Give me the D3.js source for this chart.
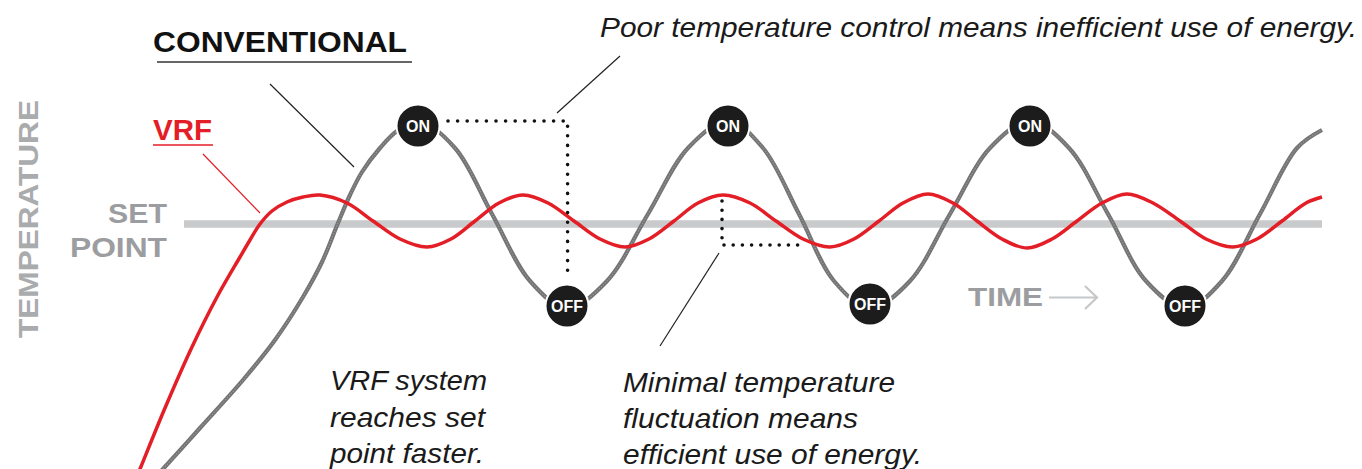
<!DOCTYPE html>
<html><head><meta charset="utf-8">
<script src="https://cdn.jsdelivr.net/npm/d3@7"></script>
<style>html,body{margin:0;padding:0;background:#fff;overflow:hidden}</style>
</head><body><svg id="c" width="1362" height="469"></svg>
<script>
// ---- data (time units, temperature relative to set point) ----
const vrfTime = [-0.5, 0, 2.5, 5.2, 7.7, 10.0, 11.0, 12.0, 13.2, 14.7, 16.3, 18.0, 20.7, 23.3, 26.0, 28.7, 31.1, 33.5, 35.9, 38.3, 40.8, 43.4, 46.0, 48.5, 50.9, 53.4, 55.8, 58.3, 61.0, 63.6, 66.3, 69.0, 71.4, 73.9, 76.3, 78.8, 81.3, 83.7, 86.2, 88.7, 91.2, 93.7, 96.2, 98.7, 101.3, 104.0, 106.6, 109.3, 111.7, 114.2, 116.6, 118.2];
const vrfTemp = [-25.7, -24.5, -18.4, -12.3, -7.3, -3.3, -1.6, 0.0, 1.3, 2.2, 2.7, 2.9, 2.1, 0.3, -1.5, -2.3, -1.5, 0.3, 2.1, 2.9, 2.1, 0.3, -1.5, -2.3, -1.5, 0.3, 2.1, 2.9, 2.1, 0.3, -1.5, -2.3, -1.5, 0.3, 2.1, 3.0, 2.1, 0.3, -1.5, -2.4, -1.5, 0.3, 2.1, 3.0, 2.1, 0.3, -1.5, -2.3, -1.5, 0.3, 2.1, 2.7];
const convTime = [1.2, 2.3, 6.0, 10.3, 13.5, 16.3, 18.2, 19.8, 21.0, 22.2, 24.0, 25.7, 27.8, 31.5, 35.2, 39.0, 42.7, 46.7, 50.8, 54.8, 58.8, 62.3, 65.9, 69.4, 73.0, 77.0, 81.0, 85.0, 89.0, 92.9, 96.8, 100.6, 104.5, 108.2, 112.0, 115.7, 118.2];
const convTemp = [-25.7, -24.5, -20.4, -15.6, -11.6, -7.3, -3.8, 0.1, 2.9, 5.2, 7.6, 9.3, 10.3, 7.6, 1.0, -5.7, -8.4, -5.7, 1.0, 7.6, 10.3, 7.6, 1.0, -5.7, -8.4, -5.7, 1.0, 7.6, 10.3, 7.6, 1.0, -5.7, -8.4, -5.7, 1.0, 7.6, 9.4];
const onTime = [27.8, 58.8, 89.0];
const onTemp = [9.8, 9.8, 9.8];
const offTime = [42.7, 73.0, 104.5];
const offTemp = [-8.2, -8.0, -8.2];
const setPoint = 0;
const setPointSpan = [4.4, 118.2];
const seriesLabels = ["CONVENTIONAL", "VRF"];
const markerLabels = ["ON", "OFF"];
const axisLabels = ["TEMPERATURE", "TIME"];
const setPointLabel = ["SET", "POINT"];
const noteConventional = ["Poor temperature control means inefficient use of energy."];
const noteReach = ["VRF system", "reaches set", "point faster."];
const noteVrf = ["Minimal temperature", "fluctuation means", "efficient use of energy."];

// ---- scales ----
const svg = d3.select("#c");
const x = d3.scaleLinear().domain([0, 120]).range([140, 1340]);
const y = d3.scaleLinear().domain([-24.5, 11]).range([469, 114]);

const GRAY = "#747474", RED = "#e41e26", LABEL_GRAY = "#9c9da0";
const FONT = "'Liberation Sans', Arial, Helvetica, sans-serif";

// set point band
svg.append("line")
  .attr("x1", x(setPointSpan[0])).attr("x2", x(setPointSpan[1]))
  .attr("y1", y(setPoint)).attr("y2", y(setPoint))
  .attr("stroke", "#c9cacc").attr("stroke-width", 7.5);

const line = d3.line().x(d => x(d[0])).y(d => y(d[1])).curve(d3.curveCatmullRom.alpha(0.5));
const conv = convTime.map((t, i) => [t, convTemp[i]]);
const vrf = vrfTime.map((t, i) => [t, vrfTemp[i]]);

svg.append("path").attr("d", line(conv)).attr("fill", "none")
  .attr("stroke", GRAY).attr("stroke-width", 4.2);
svg.append("path").attr("d", line(conv)).attr("fill", "none")
  .attr("stroke", "#9a9a9a").attr("stroke-width", 1.2).attr("stroke-dasharray", "1.2 1.6");
svg.append("path").attr("d", line(vrf)).attr("fill", "none")
  .attr("stroke", RED).attr("stroke-width", 3.5);

// dotted guides
const dots = (pts, gap) => svg.append("path")
  .attr("d", d3.line()(pts)).attr("fill", "none")
  .attr("stroke", "#111").attr("stroke-width", 3.6).attr("stroke-linecap", "round")
  .attr("stroke-dasharray", `0 ${gap}`);
const pk = 10.3;
dots([[x(onTime[0]) + 30, y(pk)], [x(offTime[0]) + 0.6, y(pk)], [x(offTime[0]) + 0.6, y(offTemp[0]) - 33]], 9.6);
dots([[x(58.2), y(2.3)], [x(58.2), y(-2.1)], [x(66.3), y(-2.1)]], 9.2);

// markers
const mk = svg.append("g");
function marker(t, v, label) {
  mk.append("circle").attr("cx", x(t)).attr("cy", y(v)).attr("r", 21.5)
    .attr("fill", "#1c1c1c").attr("stroke", "#fff").attr("stroke-width", 2);
  mk.append("text").attr("x", x(t)).attr("y", y(v) + 6).attr("text-anchor", "middle")
    .attr("fill", "#fff").attr("font-family", FONT).attr("font-weight", "bold")
    .attr("font-size", 16).text(label);
}
onTime.forEach((t, i) => marker(t, onTemp[i], markerLabels[0]));
offTime.forEach((t, i) => marker(t, offTemp[i], markerLabels[1]));

// text helper
function txt(s, xx, yy, opt) {
  const e = svg.append("text").attr("x", xx).attr("y", yy).attr("font-family", FONT).text(s);
  Object.entries(opt).forEach(([k, v]) => e.attr(k, v));
  return e;
}
// series labels
txt(seriesLabels[0], 153, 52, {"font-size": 29, "font-weight": "bold", fill: "#111", textLength: 254, lengthAdjust: "spacingAndGlyphs"});
svg.append("line").attr("x1", 157).attr("x2", 412).attr("y1", 62).attr("y2", 62).attr("stroke", "#333").attr("stroke-width", 1.6);
svg.append("line").attr("x1", 270).attr("y1", 84).attr("x2", 354).attr("y2", 167).attr("stroke", "#222").attr("stroke-width", 1.2);

txt(seriesLabels[1], 153, 140, {"font-size": 29, "font-weight": "bold", fill: RED, textLength: 59, lengthAdjust: "spacingAndGlyphs"});
svg.append("line").attr("x1", 153).attr("x2", 213).attr("y1", 145).attr("y2", 145).attr("stroke", RED).attr("stroke-width", 1.6);
svg.append("line").attr("x1", 203).attr("y1", 154).attr("x2", 260).attr("y2", 213).attr("stroke", RED).attr("stroke-width", 1.2);

// set point label
txt(setPointLabel[0], 108, 223, {"font-size": 27, "font-weight": "bold", fill: LABEL_GRAY, textLength: 59, lengthAdjust: "spacingAndGlyphs"});
txt(setPointLabel[1], 70, 257, {"font-size": 27, "font-weight": "bold", fill: LABEL_GRAY, textLength: 97, lengthAdjust: "spacingAndGlyphs"});

// axis labels
txt(axisLabels[0], 0, 0, {"font-size": 27, "font-weight": "bold", fill: "#aaabad", textLength: 238, lengthAdjust: "spacingAndGlyphs", transform: "translate(38,338) rotate(-90)"});
txt(axisLabels[1], 968, 306, {"font-size": 26, "font-weight": "bold", fill: LABEL_GRAY, textLength: 75, lengthAdjust: "spacingAndGlyphs"});
svg.append("path").attr("d", "M1049,297.5H1096M1085,286L1097,297.5L1085,309")
  .attr("fill", "none").attr("stroke", "#c6c7c9").attr("stroke-width", 2.2);

// annotations
const ital = {"font-size": 28, "font-style": "italic", fill: "#1a1a1a", lengthAdjust: "spacingAndGlyphs"};
txt(noteConventional[0], 600, 37, Object.assign({}, ital, {textLength: 757}));
svg.append("line").attr("x1", 557).attr("y1", 113).attr("x2", 620).attr("y2", 56).attr("stroke", "#222").attr("stroke-width", 1.2);

const reachW = [157, 155, 154], reachY = [390, 427, 463];
noteReach.forEach((s, i) => txt(s, 330, reachY[i], Object.assign({}, ital, {textLength: reachW[i]})));
const vrfW = [272, 235, 299], vrfY = [392, 428, 464];
noteVrf.forEach((s, i) => txt(s, 623, vrfY[i], Object.assign({}, ital, {textLength: vrfW[i]})));
svg.append("line").attr("x1", 660).attr("y1", 346).attr("x2", 719).attr("y2", 253).attr("stroke", "#222").attr("stroke-width", 1.2);
</script></body></html>
